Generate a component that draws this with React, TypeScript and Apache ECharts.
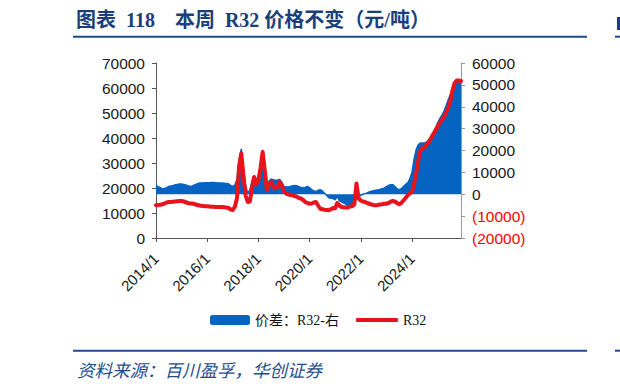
import { useEffect, useRef } from 'react';
import * as echarts from 'echarts';

const START_YEAR = 2014;
const MONTH_COUNT = 144; // 2014/1 .. 2025/12
const months: string[] = [];
for (let i = 0; i < MONTH_COUNT; i++) {
  months.push(`${START_YEAR + Math.floor(i / 12)}/${(i % 12) + 1}`);
}

// R32 price (left axis), monthly 2014/1 - 2025/12
const r32Prices = [
  13100, 13200, 13300, 13500, 13800, 14200, 14400, 14400, 14500, 14600, 14700, 14800,
  14800, 14600, 14300, 14000, 13800, 13800, 13600, 13300, 13100, 12900, 12800, 12700,
  12700, 12600, 12500, 12500, 12400, 12400, 12400, 12400, 12300, 12200, 12000, 11400,
  11200, 12500, 16000, 29000, 33800, 25000, 17000, 14400, 14600, 20000, 24400, 21500,
  23000, 28000, 34400, 27000, 19100, 21500, 22400, 20500, 19800, 20500, 22400, 21000,
  18500, 17800, 17500, 17200, 17100, 16800, 16500, 16000, 15800, 15200, 14400, 14000,
  13700, 13800, 14200, 14400, 13000, 11700, 11500, 11300, 11200, 11100, 11500, 12000,
  11900, 14000, 13000, 12400, 12300, 12200, 12200, 12600, 12700, 13500, 21800, 15800,
  15000, 14600, 14400, 14000, 13700, 13400, 13200, 13100, 13200, 13400, 13500, 13700,
  13700, 14000, 14500, 14800, 14600, 14000, 13500, 14000, 15000, 16000, 17100, 17800,
  18400, 21500, 26000, 31100, 35100, 36000, 36400, 37200, 38500, 40000, 41500, 43000,
  44500, 46000, 47200, 48500, 50000, 52000, 55000, 59000, 62000, 63000, 63000, 62800,
];

// Price spread R32 (right axis), monthly 2014/1 - 2025/12
const spreadValues = [
  3900, 3500, 3000, 2400, 2600, 3000, 3600, 3800, 4000, 4300, 4500, 4700,
  4700, 4500, 4200, 3900, 3600, 3800, 4200, 4600, 5000, 5200, 5200, 5300,
  5300, 5300, 5400, 5400, 5300, 5200, 5200, 5100, 5000, 4900, 4800, 4000,
  3600, 4200, 7000, 16000, 20700, 12000, 4000, 500, 2000, 6000, 8200, 6700,
  8000, 13000, 20100, 12000, 2900, 6000, 7000, 6600, 6400, 6500, 6700, 5500,
  3600, 3400, 3300, 3600, 3900, 4000, 3900, 3500, 3100, 2900, 3100, 3600,
  3000, 2100, 1500, 1300, 1800, 2100, 1500, 500, -500, -1600, -1800, -2000,
  -2500, -1000, -3000, -3500, -4000, -4500, -5500, -6000, -4000, -1500, 5200, -1000,
  -500, 0, 300, 600, 1000, 1400, 1600, 1800, 2000, 2200, 2500, 2800,
  3500, 4000, 4400, 4400, 3500, 2500, 2000, 2500, 3500, 4500, 5200, 7000,
  9900, 16000, 20400, 22700, 23400, 23400, 23400, 24000, 25000, 26500, 28000, 30000,
  32600, 34500, 36000, 37900, 40500, 43200, 45500, 47800, 50000, 50900, 51500, 51600,
];

const SERIES_SPREAD = '价差：R32-右';
const SERIES_R32 = 'R32';
const TITLE = '图表  118    本周  R32 价格不变（元/吨）';
const SOURCE = '资料来源：百川盈孚，华创证券';

const BLUE = '#0563C1';
const RED = '#E8131C';
const NAVY = '#1B3F7A';
const LABEL_FONT = "'Liberation Sans', Arial, sans-serif";
const SERIF_FONT = "'Liberation Serif', 'Noto Sans CJK SC', serif";

export default function App() {
  const ref = useRef<HTMLDivElement>(null);
  useEffect(() => {
    if (!ref.current) return;
    const chart = echarts.init(ref.current, null, { renderer: 'svg' });
    chart.setOption({
      animation: false,
      backgroundColor: '#fff',
      grid: { left: 156, right: 159, top: 63, bottom: 152, containLabel: false },
      xAxis: {
        type: 'category',
        data: months,
        boundaryGap: false,
        axisLine: { lineStyle: { color: '#555', width: 1 } },
        axisTick: { show: true, interval: 23, length: 4, lineStyle: { color: '#555' } },
        axisLabel: {
          interval: 23,
          rotate: 45,
          margin: 18,
          fontSize: 15,
          fontFamily: LABEL_FONT,
          color: '#1a1a1a',
        },
        splitLine: { show: false },
      },
      yAxis: [
        {
          type: 'value',
          min: 0,
          max: 70000,
          interval: 10000,
          position: 'left',
          axisLine: { show: true, lineStyle: { color: '#555' } },
          axisTick: { show: true, length: 4, lineStyle: { color: '#555' } },
          axisLabel: {
            margin: 11,
            fontSize: 15.5,
            fontFamily: LABEL_FONT,
            color: '#1a1a1a',
            formatter: (v: number) => `${v}`,
          },
          splitLine: { show: false },
        },
        {
          type: 'value',
          min: -20000,
          max: 60000,
          interval: 10000,
          position: 'right',
          axisLine: { show: true, lineStyle: { color: '#999' } },
          axisTick: { show: true, length: 4, lineStyle: { color: '#999' } },
          axisLabel: {
            margin: 11,
            fontSize: 15.5,
            fontFamily: LABEL_FONT,
            color: '#1a1a1a',
            formatter: (v: number) => (v < 0 ? `{neg|(${-v})}` : `${v}`),
            rich: {
              neg: { color: '#FF0000', fontSize: 15.5, fontFamily: LABEL_FONT },
            },
          },
          splitLine: { show: false },
        },
      ],
      legend: [
        {
          data: [{ name: SERIES_SPREAD, icon: 'roundRect' }],
          left: 210,
          top: 313,
          itemWidth: 40,
          itemHeight: 10,
          padding: 0,
          textStyle: { fontFamily: SERIF_FONT, fontSize: 14, color: '#111' },
        },
        {
          data: [{ name: SERIES_R32, icon: 'roundRect' }],
          left: 356,
          top: 313,
          itemWidth: 42,
          itemHeight: 4,
          padding: 0,
          textStyle: { fontFamily: SERIF_FONT, fontSize: 14, color: '#111' },
        },
      ],
      series: [
        {
          name: SERIES_SPREAD,
          type: 'line',
          yAxisIndex: 1,
          data: spreadValues,
          symbol: 'none',
          itemStyle: { color: BLUE },
          lineStyle: { color: BLUE, width: 1.5 },
          areaStyle: { color: BLUE, opacity: 1 },
          z: 2,
        },
        {
          name: SERIES_R32,
          type: 'line',
          yAxisIndex: 0,
          data: r32Prices,
          symbol: 'none',
          itemStyle: { color: RED },
          lineStyle: { color: RED, width: 4, cap: 'round', join: 'round' },
          z: 3,
        },
      ],
      graphic: [
        {
          type: 'text',
          left: 76,
          top: 10,
          style: {
            text: TITLE,
            fontSize: 20,
            fontWeight: 'bold',
            fontFamily: SERIF_FONT,
            fill: NAVY,
          },
        },
        { type: 'rect', shape: { x: 73, y: 35.7, width: 514, height: 2 }, style: { fill: '#1D4A8A' } },
        { type: 'rect', shape: { x: 615, y: 35.7, width: 5, height: 2 }, style: { fill: '#1D4A8A' } },
        { type: 'rect', shape: { x: 617, y: 17, width: 3, height: 13 }, style: { fill: NAVY } },
        { type: 'rect', shape: { x: 73, y: 349.7, width: 514, height: 2 }, style: { fill: '#1D4A8A' } },
        { type: 'rect', shape: { x: 615, y: 349.7, width: 5, height: 2 }, style: { fill: '#1D4A8A' } },
        {
          type: 'text',
          left: 77,
          top: 361,
          style: {
            text: SOURCE,
            fontSize: 17.5,
            fontStyle: 'italic',
            fontFamily: "'Noto Sans CJK SC', sans-serif",
            fill: '#1F4E8C',
          },
        },
      ],
    });
    return () => chart.dispose();
  }, []);
  return (
    <div
      ref={ref}
      style={{ position: 'fixed', left: 0, top: 0, width: 620, height: 390, background: '#fff' }}
    />
  );
}
